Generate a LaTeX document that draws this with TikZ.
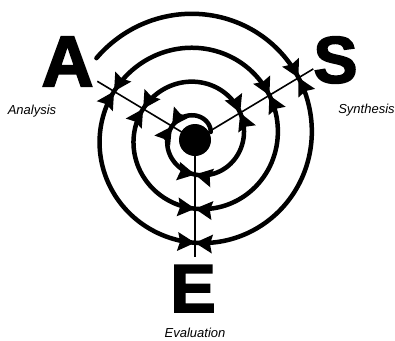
\documentclass[tikz,border=0pt]{standalone}
\usepackage{fontspec}
\setmainfont{Liberation Sans}
\newfontfamily\heavy[FakeBold=2.5]{Liberation Sans Bold}
\begin{document}
\begin{tikzpicture}[x=1pt,y=-1pt,
  spiral/.style={line width=4.5pt, line cap=round},
  tipmark/.style={fill=black},
  ray/.style={line width=1.6pt},
  dotnode/.style={circle, fill=black, minimum size=32pt, inner sep=0pt},
  big/.style={font=\heavy\fontsize{72}{72}\selectfont, inner sep=0pt},
  lbl/.style={font=\itshape\fontsize{13}{15}\selectfont, inner sep=0pt, anchor=base}]
\useasboundingbox (0,0) rectangle (395,340);
\def\Cx{197.2}\def\Cy{136.9}
\def\L{17.5}\def\W{9.5}\def\I{15}
\pgfmathdeclarefunction{spr}{1}{\pgfmathparse{21+0.0944444*(#1-90)}}
% letters
\node[big] (A) at (67.5,61.5) {A};
\node[big, font=\heavy\fontsize{66}{66}\selectfont] (S) at (335.5,60) {S};
\node[big, font=\heavy\fontsize{68}{68}\selectfont] (E) at (193,288.5) {E};
\node[lbl] (an) at (32,114.5) {Analysis};
\node[lbl] (sy) at (366.5,113.5) {Synthesis};
\node[lbl] (ev) at (195,337) {Evaluation};
% centre
\coordinate (c) at (195,140);
\coordinate (ea) at (97.3,81.3);
\coordinate (es) at (313.3,68.9);
\coordinate (ee) at (195,257);
\draw[ray] (c) -- (ea);
\draw[ray] (c) -- (es);
\draw[ray] (c) -- (ee);
% spiral
\draw[spiral] plot[domain=20:1222, samples=400, smooth]
  ({\Cx+spr(\x)*cos(\x)},{\Cy-spr(\x)*sin(\x)});
% arrow pairs at crossings
\foreach \th/\k in {149/0,149/1,149/2,31/1,31/2,31/3,270/0,270/1,270/2}{
  \pgfmathsetmacro\pz{\th+360*\k}
  \pgfmathsetmacro\rz{spr(\pz)}
  \pgfmathsetmacro\pc{\pz+asin((2.2*sin(\th)-3.1*cos(\th))/\rz)}
  \pgfmathsetmacro\rc{spr(\pc)}
  \pgfmathsetmacro\px{\Cx+\rc*cos(\pc)}
  \pgfmathsetmacro\py{\Cy-\rc*sin(\pc)}
  \pgfmathsetmacro\ux{5.411*cos(\pc)-\rc*sin(\pc)}
  \pgfmathsetmacro\uy{-5.411*sin(\pc)-\rc*cos(\pc)}
  \pgfmathsetmacro\un{sqrt(\ux*\ux+\uy*\uy)}
  \pgfmathsetmacro\tx{\ux/\un}
  \pgfmathsetmacro\ty{\uy/\un}
  \fill[tipmark] (\px,\py)
    -- ({\px-\L*\tx-\W*\ty},{\py-\L*\ty+\W*\tx})
    -- ({\px-\I*\tx},{\py-\I*\ty})
    -- ({\px-\L*\tx+\W*\ty},{\py-\L*\ty-\W*\tx}) -- cycle;
  \fill[tipmark] (\px,\py)
    -- ({\px+\L*\tx-\W*\ty},{\py+\L*\ty+\W*\tx})
    -- ({\px+\I*\tx},{\py+\I*\ty})
    -- ({\px+\L*\tx+\W*\ty},{\py+\L*\ty-\W*\tx}) -- cycle;
}
\node[dotnode] (dot) at (c) {};
\end{tikzpicture}
\end{document}
